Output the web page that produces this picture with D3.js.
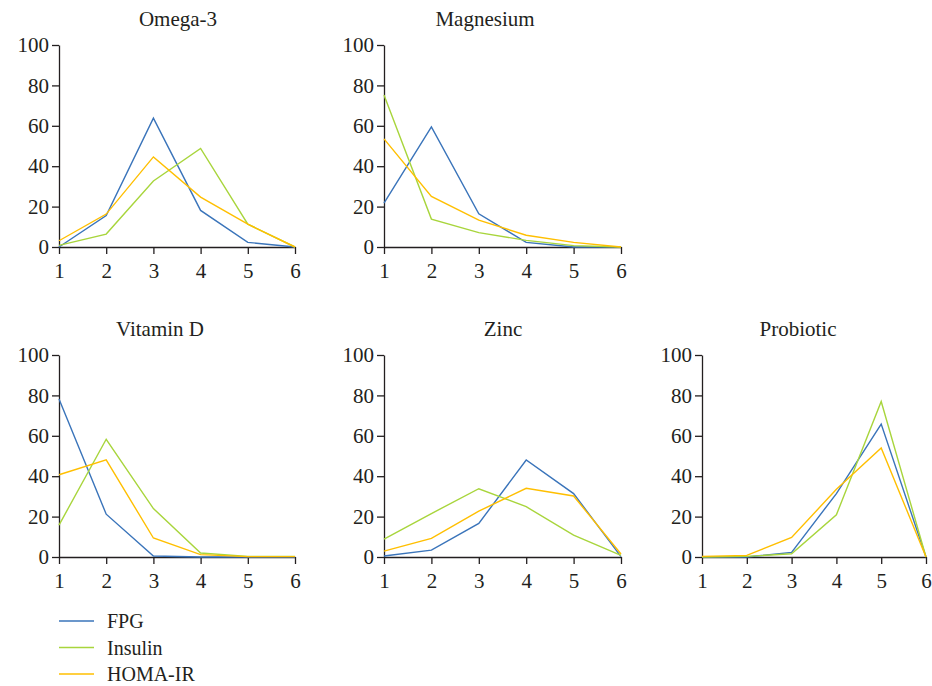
<!DOCTYPE html>
<html>
<head>
<meta charset="utf-8">
<script src="https://cdnjs.cloudflare.com/ajax/libs/d3/7.8.5/d3.min.js"></script>
<style>
  body { margin: 0; background: #fff; }
  svg text { font-family: "Liberation Serif", "DejaVu Serif", serif; fill: #231f20; }
  .axis path, .axis line { stroke: #231f20; stroke-width: 1.3; }
</style>
</head>
<body>
<svg></svg>
<script>
var width = 932;
var height = 686;

// data
var xValues = [1, 2, 3, 4, 5, 6];
var yTicks = [0, 20, 40, 60, 80, 100];
var seriesNames = ["FPG", "Insulin", "HOMA-IR"];
var seriesColors = ["#3a74ba", "#a8d53c", "#ffbf00"];
var panelTitles = ["Omega-3", "Magnesium", "Vitamin D", "Zinc", "Probiotic"];

var omega3FPG = [0, 15.6, 63.8, 18.1, 2.3, 0];
var omega3Insulin = [0.8, 6.4, 32.7, 48.8, 11.3, 0];
var omega3Homa = [3.1, 16.3, 44.6, 24.7, 11.3, 0];

var magnesiumFPG = [21.7, 59.5, 16.4, 2.3, 0, 0];
var magnesiumInsulin = [75.2, 13.8, 7.1, 3.3, 0.7, 0];
var magnesiumHoma = [53.5, 25, 13.3, 5.8, 2.3, 0];

var vitDFPG = [78.2, 21.2, 0.5, 0, 0, 0];
var vitDInsulin = [15.8, 58.3, 24, 2, 0.3, 0.3];
var vitDHoma = [40.7, 48.1, 9.4, 1.2, 0.2, 0.2];

var zincFPG = [0.5, 3.4, 16.6, 48, 31.4, 0.2];
var zincInsulin = [8.9, 21.5, 33.8, 24.9, 10.8, 0.8];
var zincHoma = [2.9, 9.2, 22.7, 34, 30.2, 1.5];

var probioticFPG = [0, 0, 2.3, 31.4, 65.8, 0];
var probioticInsulin = [0, 0.3, 1.6, 20.9, 77, 0];
var probioticHoma = [0.3, 0.8, 9.7, 33.5, 54, 0];

var panelData = [
  [omega3FPG, omega3Insulin, omega3Homa],
  [magnesiumFPG, magnesiumInsulin, magnesiumHoma],
  [vitDFPG, vitDInsulin, vitDHoma],
  [zincFPG, zincInsulin, zincHoma],
  [probioticFPG, probioticInsulin, probioticHoma]
];

// panel frames: left/right of x axis, top/bottom of y axis, title centre
var panels = [
  {x0: 59, x1: 295, y0: 247, y1: 45, tx: 178, ty: 26},
  {x0: 384, x1: 621, y0: 247, y1: 45, tx: 485, ty: 26},
  {x0: 59, x1: 295, y0: 557, y1: 355, tx: 160, ty: 336},
  {x0: 384, x1: 621, y0: 557, y1: 355, tx: 503, ty: 336},
  {x0: 702, x1: 926, y0: 557, y1: 355, tx: 798, ty: 336}
];

var fontSize = "21px";

var svg = d3.select("svg")
  .attr("width", width)
  .attr("height", height);

panels.forEach(function(p, i) {
  var x = d3.scaleLinear().domain([1, 6]).range([p.x0, p.x1]);
  var y = d3.scaleLinear().domain([0, 100]).range([p.y0, p.y1]);

  var g = svg.append("g");

  g.append("g")
    .attr("class", "axis")
    .attr("transform", "translate(0," + p.y0 + ")")
    .call(d3.axisBottom(x).tickValues(xValues).tickSize(7).tickSizeOuter(0).tickPadding(9).tickFormat(d3.format("d")))
    .call(function(a) { a.selectAll("text").style("font-size", fontSize).attr("fill", "#231f20"); });

  g.append("g")
    .attr("class", "axis")
    .attr("transform", "translate(" + p.x0 + ",0)")
    .call(d3.axisLeft(y).tickValues(yTicks).tickSize(7).tickSizeOuter(0).tickPadding(3))
    .call(function(a) { a.selectAll("text").style("font-size", fontSize).attr("fill", "#231f20"); });

  g.append("text")
    .attr("x", p.tx)
    .attr("y", p.ty)
    .attr("text-anchor", "middle")
    .style("font-size", fontSize)
    .text(panelTitles[i]);

  var line = d3.line()
    .x(function(d, j) { return x(xValues[j]); })
    .y(function(d) { return y(d); });

  panelData[i].forEach(function(s, k) {
    g.append("path")
      .datum(s)
      .attr("d", line)
      .attr("fill", "none")
      .attr("stroke", seriesColors[k])
      .attr("stroke-width", 1.4);
  });
});

// legend
var legend = svg.selectAll(".legend")
  .data(seriesNames)
  .enter().append("g")
  .attr("class", "legend")
  .attr("transform", function(d, i) { return "translate(59," + (621 + i * 26.5) + ")"; });

legend.append("line")
  .attr("x1", 0)
  .attr("x2", 35)
  .attr("stroke", function(d, i) { return seriesColors[i]; })
  .attr("stroke-width", 1.4);

legend.append("text")
  .attr("x", 48)
  .attr("dy", "0.35em")
  .style("font-size", "20px")
  .text(function(d) { return d; });
</script>
</body>
</html>
